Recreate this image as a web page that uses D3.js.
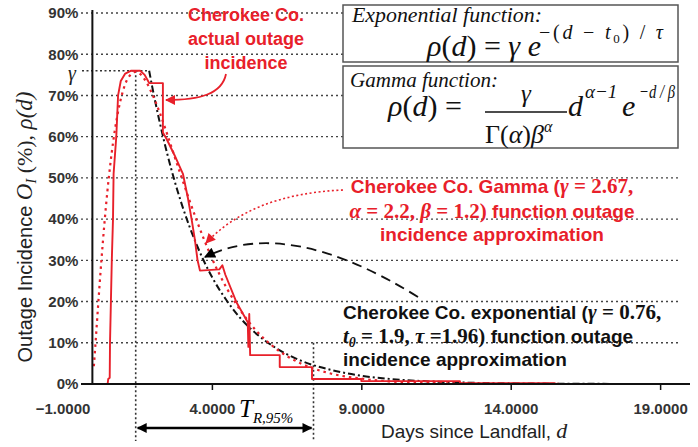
<!DOCTYPE html>
<html><head><meta charset="utf-8">
<script src="https://cdn.jsdelivr.net/npm/d3@7"></script>
<style>body{margin:0;background:#fff}svg{display:block}</style>
</head><body><svg id="c" width="698" height="447"></svg>
<script>
// ---------- data ----------
const yTicks = [0, 10, 20, 30, 40, 50, 60, 70, 80, 90];
const gridTicks = [10, 20, 30, 40, 50, 60, 70, 80, 90];
const xTicks = [-1, 4, 9, 14, 19];

// Cherokee Co. actual outage incidence (%)
const actualDays = [0.36,0.51,0.53,0.58,0.59,0.62,0.65,0.69,0.71,0.80,0.86,0.95,1.10,1.30,1.60,1.75,1.90,2.36,2.36,2.48,2.75,3.03,3.20,3.32,3.43,3.52,3.60,4.25,4.35,4.45,4.83,5.20,5.22,5.25,5.28,6.27,6.27,7.35,7.35,9.0,9.0,12.3,12.3,15.5];
const actualPct  = [0,0,1.2,1.5,10,20,30,40,51,60,70,73.5,75.3,76,76,75,73,73,61,59.5,55.5,51,45,40,35,30,27.5,27.8,28.8,26.5,19.7,15,9,17,7,7,4.1,4.1,1.2,1.2,0.7,0.7,0.2,0.2];

// Gamma function approximation (%)
const gammaDays = [0.05,0.1,0.2,0.3,0.4,0.5,0.6,0.7,0.8,0.9,1.0,1.2,1.44,1.6,1.8,2.0,2.25,2.5,2.75,3.0,3.5,4,4.5,5,5.5,6,7,8,9,10,12,14,17,20];
const gammaPct  = [4.3,9.4,19.9,29.8,38.7,46.6,53.3,59.0,63.7,67.5,70.5,74.3,75.7,75.2,73.3,70.4,65.9,60.7,55.2,49.8,39.5,30.5,23.2,17.4,12.8,9.4,4.9,2.5,1.3,0.6,0.15,0.03,0,0];

// Exponential function approximation (%)
const expDays = [1.9,2.0,2.25,2.5,2.75,3.0,3.5,4,4.5,5,5.5,6,7,8,9,10,12,14,16,18,20];
const expPct  = [76,72.2,63.6,56.0,49.3,43.4,33.6,26.0,20.2,15.6,12.1,9.4,5.6,3.4,2.0,1.2,0.44,0.16,0.06,0.02,0.01];

const gammaLevel = 76;       // gamma marker level (%)
const peakDay = 1.45;        // vertical dotted line
const tr95 = [1.45, 7.4];    // T_R,95% span (days)
const trLevel = 10;          // level where the T_R end line starts

// ---------- drawing ----------
const RED = "#e8202a";
const SERIF = "'Liberation Serif','Times New Roman',serif";
const SANS = "'Liberation Sans',Arial,sans-serif";
const svg = d3.select("#c");
const x = d3.scaleLinear().domain([-1, 20]).range([62.5, 690]);
const y = d3.scaleLinear().domain([0, 90]).range([384, 13]);

const defs = svg.append("defs");
function marker(id, color, w, h) {
  defs.append("marker").attr("id", id).attr("viewBox", "0 0 10 10")
    .attr("refX", 9).attr("refY", 5).attr("markerUnits", "userSpaceOnUse")
    .attr("markerWidth", w).attr("markerHeight", h).attr("orient", "auto-start-reverse")
    .append("path").attr("d", "M0,0 L10,5 L0,10 Z").attr("fill", color);
}
marker("arRed", RED, 13, 10);
marker("arBlk", "#000", 14, 11);
marker("arTR", "#000", 14, 10);

// gridlines
svg.append("g").selectAll("line").data(gridTicks).join("line")
  .attr("x1", 81).attr("x2", 678).attr("y1", d => y(d)).attr("y2", d => y(d))
  .attr("stroke", "#444").attr("stroke-width", 1.4).attr("stroke-dasharray", "2,3");

// formula boxes
svg.append("rect").attr("x", 343).attr("y", 5).attr("width", 335).attr("height", 57)
  .attr("fill", "#fff").attr("stroke", "#555").attr("stroke-width", 1.5);
svg.append("rect").attr("x", 343).attr("y", 66).attr("width", 335).attr("height", 82)
  .attr("fill", "#fff").attr("stroke", "#555").attr("stroke-width", 1.5);

// gamma level and reference dotted lines
const dotted = {stroke: "#333", "stroke-width": 1.6, "stroke-dasharray": "2,2.5"};
function dline(x1, y1, x2, y2) {
  const l = svg.append("line").attr("x1", x1).attr("y1", y1).attr("x2", x2).attr("y2", y2);
  Object.entries(dotted).forEach(([k, v]) => l.attr(k, v));
}
dline(82, y(gammaLevel), x(expDays[0]), y(gammaLevel));
dline(x(peakDay), y(gammaLevel), x(peakDay), 441);
dline(x(tr95[1]), y(trLevel), x(tr95[1]), 441);

// curves
const gammaData = gammaDays.map((d, i) => [d, gammaPct[i]]);
const expData = expDays.map((d, i) => [d, expPct[i]]);
const actData = actualDays.map((d, i) => [d, actualPct[i]]);
const smooth = d3.line().x(d => x(d[0])).y(d => y(d[1])).curve(d3.curveMonotoneX);
const straight = d3.line().x(d => x(d[0])).y(d => y(d[1]));

svg.append("path").attr("d", smooth(expData)).attr("fill", "none")
  .attr("stroke", "#111").attr("stroke-width", 2).attr("stroke-dasharray", "7,3,2,3");
svg.append("path").attr("d", straight(actData)).attr("fill", "none")
  .attr("stroke", RED).attr("stroke-width", 1.9).attr("stroke-linejoin", "round");
svg.append("path").attr("d", smooth(gammaData)).attr("fill", "none")
  .attr("stroke", RED).attr("stroke-width", 2.2).attr("stroke-dasharray", "2.5,4");

// axes
const yAxis = svg.append("g").attr("transform", `translate(${x(0)},0)`)
  .call(d3.axisLeft(y).tickValues(yTicks).tickFormat(d => d + "%").tickSize(0).tickPadding(14));
yAxis.select(".domain").remove();
yAxis.selectAll("text").attr("font-family", SANS).attr("font-size", 15)
  .attr("font-weight", "bold").attr("fill", "#333");
svg.append("line").attr("x1", x(0)).attr("x2", x(0)).attr("y1", 10).attr("y2", y(0))
  .attr("stroke", "#111").attr("stroke-width", 2);

const xAxis = svg.append("g").attr("transform", `translate(0,${y(0)})`)
  .call(d3.axisBottom(x).tickValues(xTicks).tickFormat(d3.format(".4f")).tickSize(6).tickPadding(13));
xAxis.select(".domain").remove();
xAxis.selectAll(".tick line").attr("stroke", "#111").attr("stroke-width", 1.5)
  .filter(d => d < 0).remove();
xAxis.selectAll("text").attr("font-family", SANS).attr("font-size", 15)
  .attr("font-weight", "bold").attr("fill", "#333");
svg.append("line").attr("x1", 81).attr("x2", 690).attr("y1", y(0)).attr("y2", y(0))
  .attr("stroke", "#111").attr("stroke-width", 2);

// T_R arrow
svg.append("line").attr("x1", x(tr95[0]) + 2).attr("x2", x(tr95[1]) - 2).attr("y1", 428).attr("y2", 428)
  .attr("stroke", "#000").attr("stroke-width", 2.5)
  .attr("marker-start", "url(#arTR)").attr("marker-end", "url(#arTR)");
const tr = svg.append("text").attr("x", 239).attr("y", 417).attr("font-family", SERIF).attr("font-style", "italic");
tr.append("tspan").attr("font-size", 25).text("T");
tr.append("tspan").attr("font-size", 15).attr("dy", 6).text("R,95%");

// axis titles
const xt = svg.append("text").attr("x", 381).attr("y", 438).attr("fill", "#222");
xt.append("tspan").attr("font-family", SANS).attr("font-size", 19).text("Days since Landfall, ");
xt.append("tspan").attr("font-family", SERIF).attr("font-style", "italic").attr("font-size", 22).text("d");

const yt = svg.append("text").attr("transform", "translate(32,227) rotate(-90)")
  .attr("text-anchor", "middle").attr("fill", "#222");
yt.append("tspan").attr("font-family", SANS).attr("font-size", 20).text("Outage Incidence ");
yt.append("tspan").attr("font-family", SERIF).attr("font-style", "italic").attr("font-size", 23).text("O");
yt.append("tspan").attr("font-family", SERIF).attr("font-style", "italic").attr("font-size", 14).attr("dy", 4).text("I");
yt.append("tspan").attr("font-family", SERIF).attr("font-size", 22).attr("dy", -4).text(" (%), ");
yt.append("tspan").attr("font-family", SERIF).attr("font-style", "italic").attr("font-size", 23).text("ρ(d)");

svg.append("text").attr("x", 68).attr("y", 80).attr("font-family", SERIF).attr("font-style", "italic")
  .attr("font-size", 20).attr("fill", "#222").text("γ");

// formula box 1
function t(xp, yp, size, str, italic, anchor, len) {
  const e = svg.append("text").attr("x", xp).attr("y", yp).attr("font-family", SERIF)
    .attr("font-size", size).attr("fill", "#111").text(str);
  if (italic) e.attr("font-style", "italic");
  if (anchor) e.attr("text-anchor", anchor);
  if (len) e.attr("textLength", len).attr("lengthAdjust", "spacingAndGlyphs");
  return e;
}
t(352, 22, 20, "Exponential function:", true, null, 190);
const f1 = svg.append("text").attr("x", 427).attr("y", 56).attr("font-family", SERIF).attr("font-size", 30).attr("fill", "#111");
f1.append("tspan").attr("font-style", "italic").text("ρ");
f1.append("tspan").text("(");
f1.append("tspan").attr("font-style", "italic").text("d");
f1.append("tspan").text(") = ");
f1.append("tspan").attr("font-style", "italic").text("γ e");
const f1e = svg.append("text").attr("x", 539).attr("y", 39).attr("font-family", SERIF).attr("font-size", 20)
  .attr("fill", "#111").attr("textLength", 124).attr("lengthAdjust", "spacing");
f1e.append("tspan").text("−(");
f1e.append("tspan").attr("font-style", "italic").text("d");
f1e.append("tspan").text(" − ");
f1e.append("tspan").attr("font-style", "italic").text("t");
f1e.append("tspan").attr("font-size", 13).attr("dy", 4).text("0");
f1e.append("tspan").attr("dy", -4).text(") / ");
f1e.append("tspan").attr("font-style", "italic").text("τ");

// formula box 2
t(350, 87, 20, "Gamma function:", true, null, 148);
const f2 = svg.append("text").attr("x", 388).attr("y", 116).attr("font-family", SERIF).attr("font-size", 30).attr("fill", "#111");
f2.append("tspan").attr("font-style", "italic").text("ρ");
f2.append("tspan").text("(");
f2.append("tspan").attr("font-style", "italic").text("d");
f2.append("tspan").text(") =");
t(526, 102, 25, "γ", true, "middle");
svg.append("line").attr("x1", 485).attr("x2", 567).attr("y1", 112).attr("y2", 112).attr("stroke", "#111").attr("stroke-width", 1.4);
const den = svg.append("text").attr("x", 485).attr("y", 143).attr("font-family", SERIF).attr("font-size", 26).attr("fill", "#111");
den.append("tspan").text("Γ(");
den.append("tspan").attr("font-style", "italic").text("α");
den.append("tspan").text(")");
den.append("tspan").attr("font-style", "italic").text("β");
den.append("tspan").attr("font-style", "italic").attr("font-size", 16).attr("dy", -11).text("α");
t(568, 116, 30, "d", true);
t(585, 98, 19, "α−1", true);
t(622, 116, 30, "e", true);
t(639, 98, 19, "−d / β", true, null, 36);

// annotations: actual
const a1 = svg.append("text").attr("text-anchor", "middle").attr("font-family", SANS)
  .attr("font-weight", "bold").attr("font-size", 18).attr("fill", RED);
[["Cherokee Co.", 21], ["actual outage", 45], ["incidence", 69]].forEach(([s, yy]) =>
  a1.append("tspan").attr("x", 246).attr("y", yy).text(s));
svg.append("path").attr("d", "M226,74 C222,94 200,100 166,100").attr("fill", "none")
  .attr("stroke", RED).attr("stroke-width", 1.8).attr("marker-end", "url(#arRed)");

// annotations: gamma / exponential labels
function mixLine(g, xp, yp, parts, anchor, color) {
  const e = g.append("text").attr("x", xp).attr("y", yp).attr("fill", color).attr("font-weight", "bold");
  if (anchor) e.attr("text-anchor", anchor);
  parts.forEach(([s, kind]) => {
    const sp = e.append("tspan").text(s);
    if (kind === "s") sp.attr("font-family", SANS).attr("font-size", 19);
    else if (kind === "m") sp.attr("font-family", SERIF).attr("font-size", 21);
    else if (kind === "mi") sp.attr("font-family", SERIF).attr("font-style", "italic").attr("font-size", 21);
    else if (kind === "sub") sp.attr("font-family", SERIF).attr("font-style", "italic").attr("font-size", 14).attr("dy", 4);
    else if (kind === "m2") sp.attr("font-family", SERIF).attr("font-size", 21).attr("dy", -4);
  });
  return e;
}
const gG = svg.append("g");
mixLine(gG, 492, 193, [["Cherokee Co. Gamma (", "s"], ["γ", "mi"], [" = 2.67,", "m"]], "middle", RED);
mixLine(gG, 492, 218, [["α", "mi"], [" = 2.2, ", "m"], ["β", "mi"], [" = 1.2)", "m"], [" function outage", "s"]], "middle", RED);
mixLine(gG, 492, 241, [["incidence approximation", "s"]], "middle", RED);
svg.append("path").attr("d", "M343,190 Q252,194 206,243").attr("fill", "none")
  .attr("stroke", RED).attr("stroke-width", 1.6).attr("stroke-dasharray", "2,2.5").attr("marker-end", "url(#arRed)");

const eG = svg.append("g");
mixLine(eG, 343, 319, [["Cherokee Co. exponential (", "s"], ["γ", "mi"], [" = 0.76,", "m"]], null, "#111");
mixLine(eG, 343, 343, [["t", "mi"], ["0", "sub"], [" = 1.9, ", "m2"], ["τ", "mi"], [" =1.96)", "m"], [" function outage", "s"]], null, "#111");
mixLine(eG, 343, 366, [["incidence approximation", "s"]], null, "#111");
svg.append("path").attr("d", "M418,297 Q288,216 205,257").attr("fill", "none")
  .attr("stroke", "#111").attr("stroke-width", 1.8).attr("stroke-dasharray", "10,6").attr("marker-end", "url(#arBlk)");
</script></body></html>
